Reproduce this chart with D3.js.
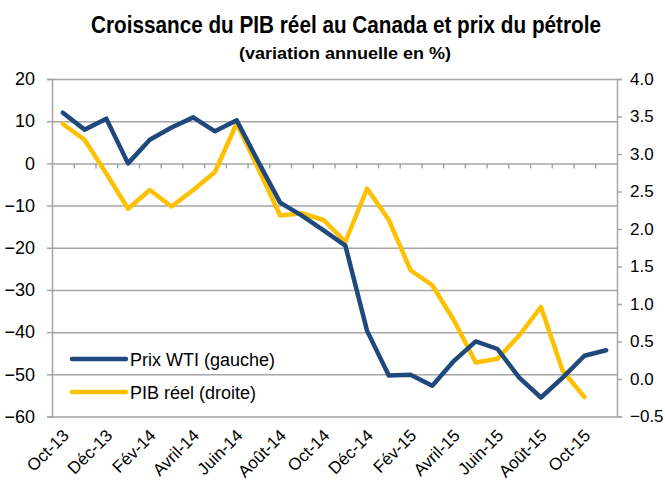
<!DOCTYPE html>
<html>
<head>
<meta charset="utf-8">
<script src="https://cdn.jsdelivr.net/npm/d3@7"></script>
<style>
  body { margin: 0; background: #fff; }
  text { font-family: "Liberation Sans", Arial, sans-serif; fill: #000; }
</style>
</head>
<body>
<div id="chart"></div>
<script>
var svgWidth = 665;
var svgHeight = 491;

var margin = { top: 79, right: 48, bottom: 74.5, left: 52 };
var width = svgWidth - margin.left - margin.right;
var height = svgHeight - margin.top - margin.bottom;

// months, Oct-13 .. Nov-15
var months = ["Oct-13", "Nov-13", "Déc-13", "Janv-14", "Fév-14", "Mars-14", "Avril-14", "Mai-14",
  "Juin-14", "Juil-14", "Août-14", "Sept-14", "Oct-14", "Nov-14", "Déc-14", "Janv-15", "Fév-15",
  "Mars-15", "Avril-15", "Mai-15", "Juin-15", "Juil-15", "Août-15", "Sept-15", "Oct-15", "Nov-15"];

// Prix WTI, variation annuelle (%), axe de gauche
var wti = [12.0, 8.0, 10.6, 0.0, 5.6, 8.5, 10.9, 7.6, 10.2, 0.3, -9.3, -12.4, -15.9, -19.5,
  -39.7, -50.3, -50.1, -52.7, -46.8, -42.2, -44.0, -50.8, -55.5, -50.8, -45.6, -44.3];

// PIB reel, variation annuelle (%), axe de droite (pas encore de donnee pour Nov-15)
var pib = [3.40, 3.19, 2.74, 2.27, 2.52, 2.30, 2.52, 2.76, 3.41, 2.80, 2.18, 2.21, 2.12, 1.83,
  2.54, 2.12, 1.45, 1.25, 0.78, 0.22, 0.27, 0.58, 0.96, 0.11, -0.24, null];

var leftTicks = [-60, -50, -40, -30, -20, -10, 0, 10, 20];
var rightTicks = [-0.5, 0.0, 0.5, 1.0, 1.5, 2.0, 2.5, 3.0, 3.5, 4.0];
var shownMonths = months.filter(function(d, i) { return i % 2 === 0; });

var seriesNames = ["Prix WTI (gauche)", "PIB réel (droite)"];
var colors = ["#1f497d", "#ffc000"];
var gridColor = "#a5a5a5";

var svg = d3.select("#chart")
  .append("svg")
  .attr("width", svgWidth)
  .attr("height", svgHeight);

// titles
svg.append("text")
  .attr("x", 346)
  .attr("y", 33)
  .attr("text-anchor", "middle")
  .attr("font-size", "23px")
  .attr("font-weight", "bold")
  .attr("textLength", 510)
  .attr("lengthAdjust", "spacingAndGlyphs")
  .text("Croissance du PIB réel au Canada et prix du pétrole");

svg.append("text")
  .attr("x", 345)
  .attr("y", 59)
  .attr("text-anchor", "middle")
  .attr("font-size", "17px")
  .attr("font-weight", "bold")
  .attr("textLength", 212)
  .attr("lengthAdjust", "spacingAndGlyphs")
  .text("(variation annuelle en %)");

var chartGroup = svg.append("g")
  .attr("transform", `translate(${margin.left}, ${margin.top})`);

var xBand = d3.scaleBand()
  .domain(months)
  .range([0, width]);

var xIndex = d3.scaleLinear()
  .domain([0, months.length])
  .range([0, width]);

var yLeft = d3.scaleLinear()
  .domain([-60, 20])
  .range([height, 0]);

var yRight = d3.scaleLinear()
  .domain([-0.5, 4.0])
  .range([height, 0]);

// gridlines
var grid = chartGroup.append("g")
  .call(d3.axisLeft(yLeft).tickValues(leftTicks).tickSize(-width).tickFormat(""));
grid.select(".domain").remove();
grid.selectAll("line").attr("stroke", gridColor).attr("stroke-width", 1.5);

// left axis
var leftAxis = chartGroup.append("g")
  .call(d3.axisLeft(yLeft).tickValues(leftTicks).tickSize(5).tickPadding(12));
leftAxis.select(".domain").attr("stroke", gridColor).attr("stroke-width", 1.5);
leftAxis.selectAll("line").attr("stroke", gridColor).attr("stroke-width", 1.5);
leftAxis.selectAll("text").attr("font-size", "18px").attr("font-family", "Liberation Sans, Arial, sans-serif");

// right axis
var rightAxis = chartGroup.append("g")
  .attr("transform", `translate(${width}, 0)`)
  .call(d3.axisRight(yRight).tickValues(rightTicks).tickSize(5).tickPadding(8).tickFormat(d3.format(".1f")));
rightAxis.select(".domain").attr("stroke", gridColor).attr("stroke-width", 1.5);
rightAxis.selectAll("line").attr("stroke", gridColor).attr("stroke-width", 1.5);
rightAxis.selectAll("text").attr("font-size", "17px").attr("font-family", "Liberation Sans, Arial, sans-serif");

// category axis crossing at zero, ticks between months
var catAxis = chartGroup.append("g")
  .attr("transform", `translate(0, ${yLeft(0)})`)
  .call(d3.axisBottom(xIndex).tickValues(d3.range(1, months.length)).tickSize(5).tickFormat(""));
catAxis.select(".domain").remove();
catAxis.selectAll("line").attr("stroke", gridColor).attr("stroke-width", 1.5);

// month labels at the bottom
var labelAxis = chartGroup.append("g")
  .attr("transform", `translate(0, ${height})`)
  .call(d3.axisBottom(xBand).tickValues(shownMonths).tickSize(0).tickPadding(0));
labelAxis.select(".domain").remove();
labelAxis.selectAll("text")
  .attr("font-size", "17px")
  .attr("font-family", "Liberation Sans, Arial, sans-serif")
  .attr("text-anchor", "end")
  .attr("dy", "0")
  .attr("transform", "translate(7, 20) rotate(-45)");

// lines
var wtiLine = d3.line()
  .x((d, i) => xBand(months[i]) + xBand.bandwidth() / 2)
  .y(d => yLeft(d));

var pibLine = d3.line()
  .defined(d => d !== null)
  .x((d, i) => xBand(months[i]) + xBand.bandwidth() / 2)
  .y(d => yRight(d));

chartGroup.append("path")
  .datum(pib)
  .attr("d", pibLine)
  .attr("fill", "none")
  .attr("stroke", colors[1])
  .attr("stroke-width", 4.5)
  .attr("stroke-linejoin", "round")
  .attr("stroke-linecap", "round");

chartGroup.append("path")
  .datum(wti)
  .attr("d", wtiLine)
  .attr("fill", "none")
  .attr("stroke", colors[0])
  .attr("stroke-width", 4.5)
  .attr("stroke-linejoin", "round")
  .attr("stroke-linecap", "round");

// legend
var legend = svg.append("g")
  .attr("transform", "translate(72, 359)");

seriesNames.forEach(function(name, i) {
  var row = legend.append("g").attr("transform", `translate(0, ${i * 33})`);
  row.append("line")
    .attr("x1", 0).attr("x2", 54)
    .attr("y1", 0).attr("y2", 0)
    .attr("stroke", colors[i])
    .attr("stroke-width", 4.5)
    .attr("stroke-linecap", "round");
  row.append("text")
    .attr("x", 58)
    .attr("y", 6.5)
    .attr("font-size", "18px")
    .text(name);
});
</script>
</body>
</html>
